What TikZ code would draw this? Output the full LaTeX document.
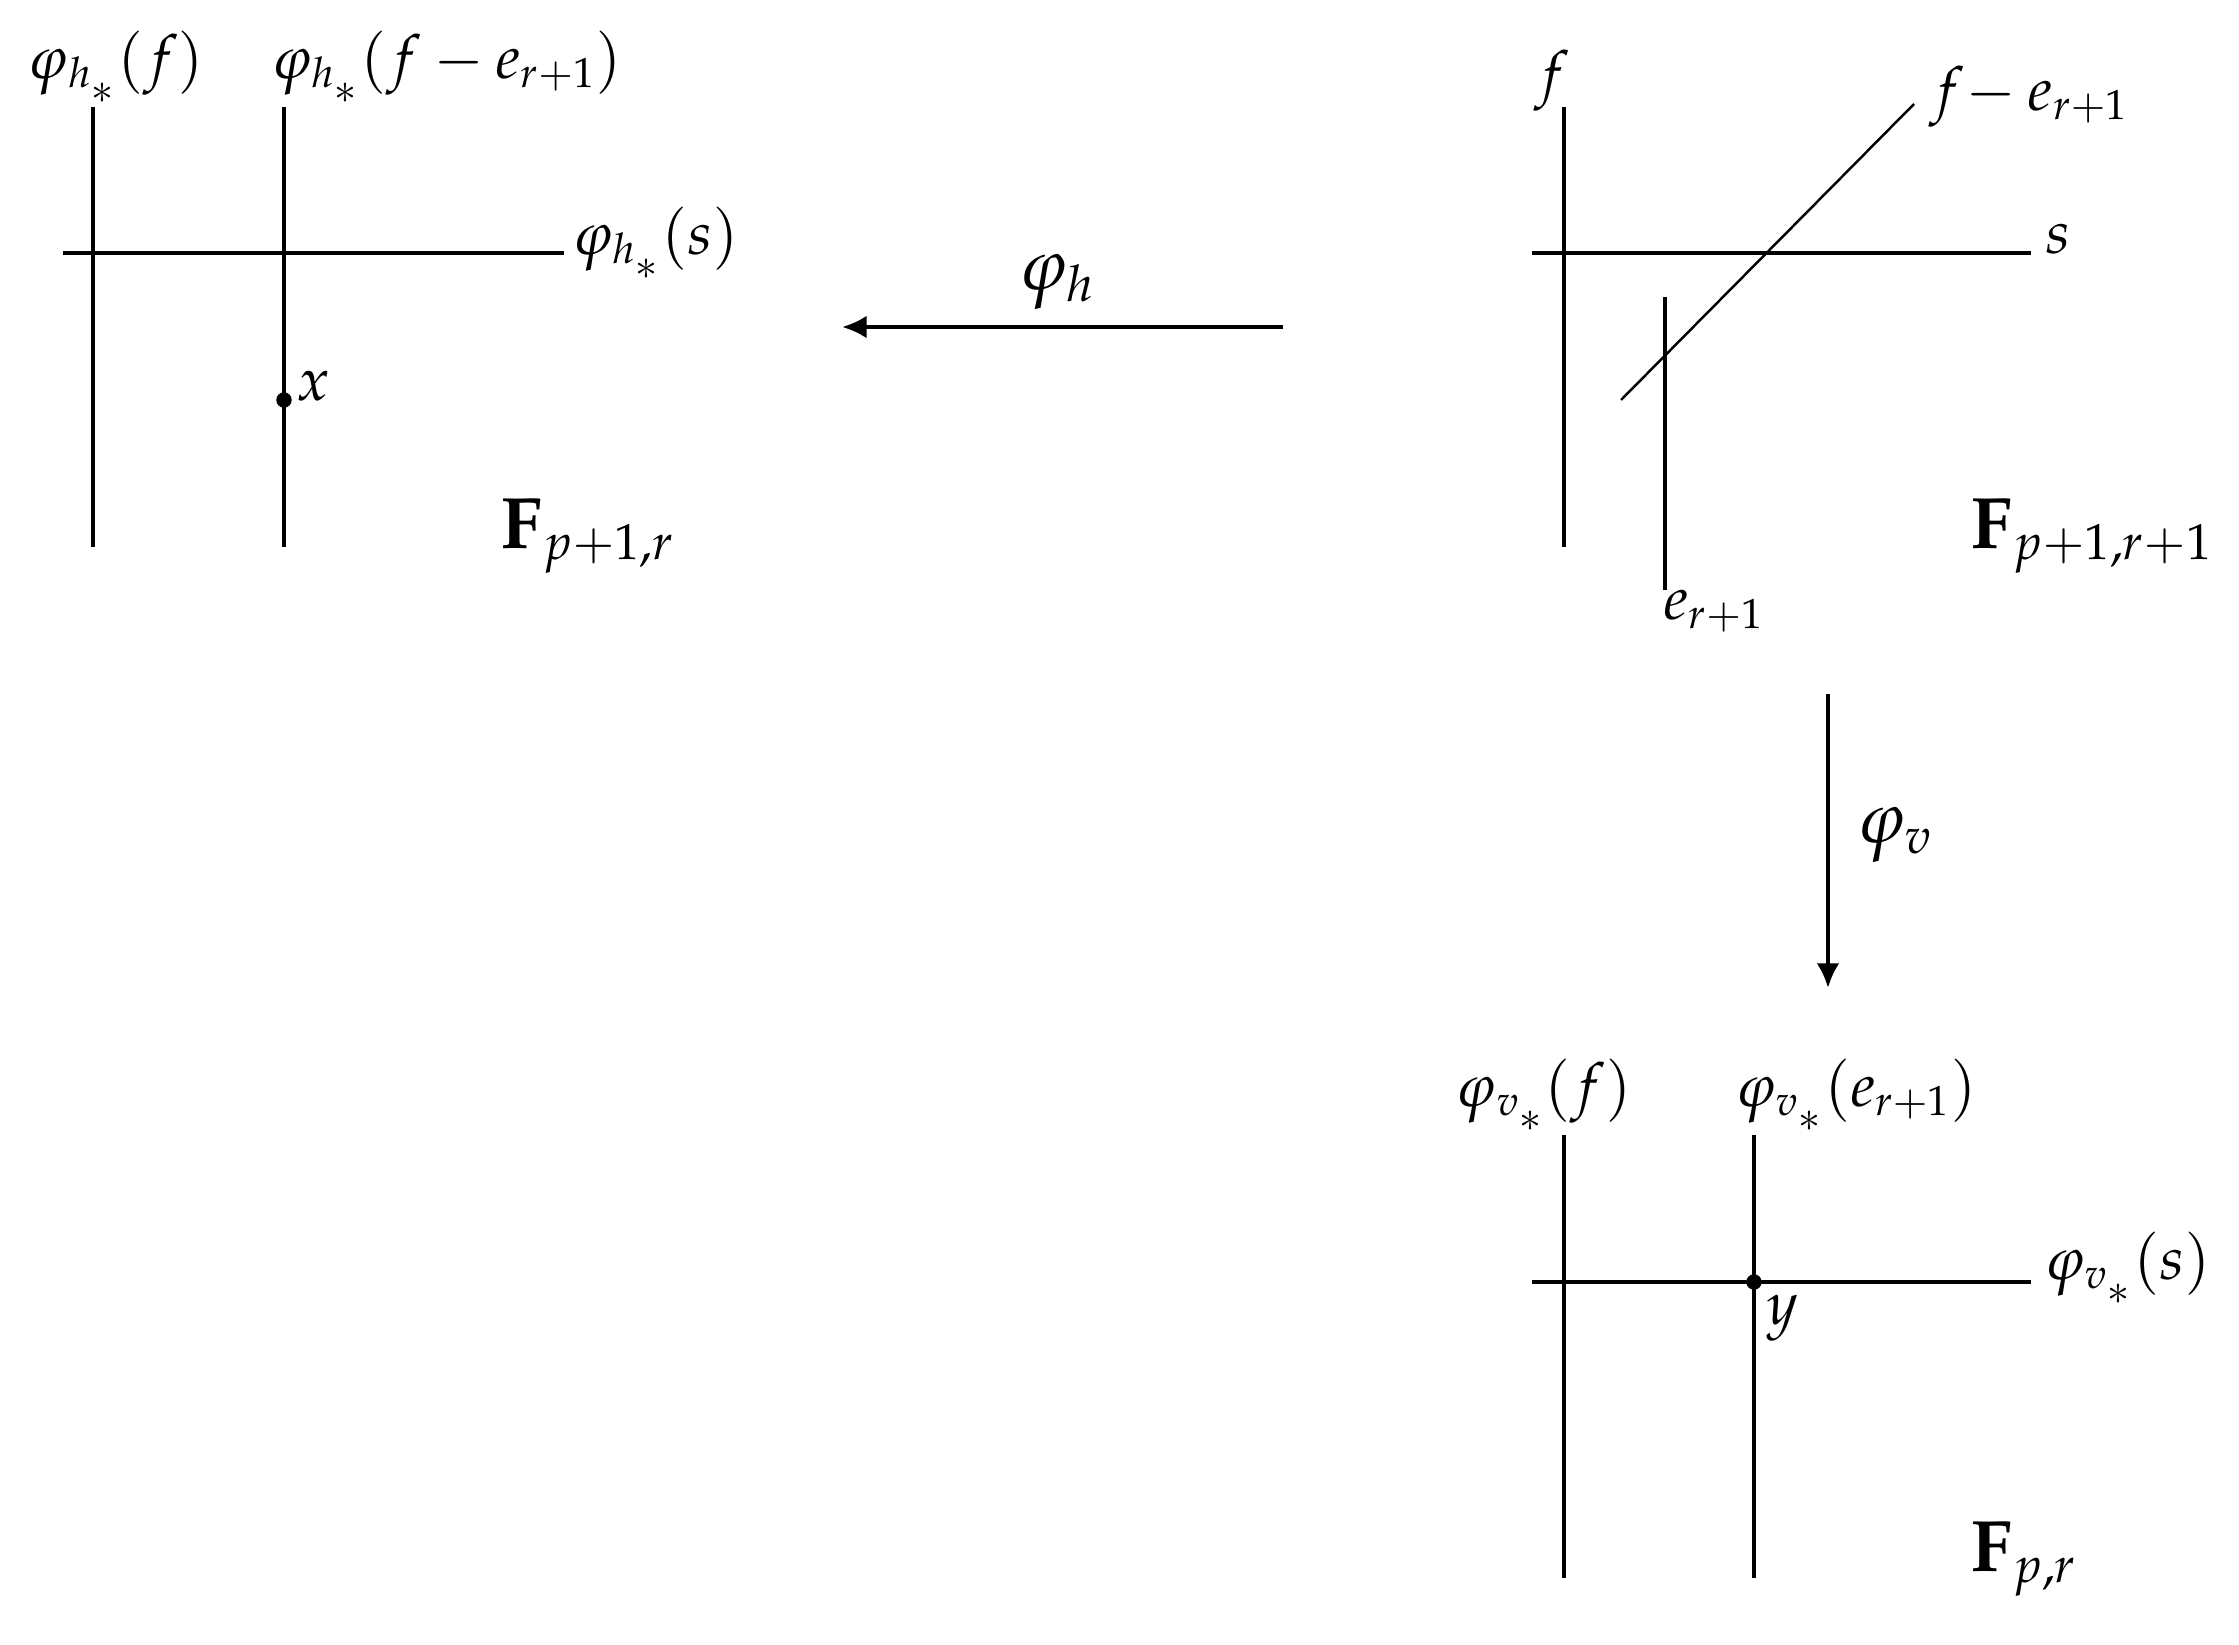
\documentclass[tikz,border=0pt]{standalone}
\usepackage{mathpazo}
\usetikzlibrary{arrows.meta}
\newcommand{\lowstar}{{\raisebox{-0.35ex}{$\scriptstyle\ast$}}}
\tikzset{
  thickLine/.style={line width=1.2pt},
  midLine/.style={line width=0.95pt},
  thinLine/.style={line width=0.7pt},
  mapArrow/.style={line width=1.2pt, -{Latex[length=7pt,width=6.5pt]}},
  smallLabel/.style={font=\LARGE},
  bigLabel/.style={font=\huge},
}
\begin{document}
\begin{tikzpicture}
\useasboundingbox (0,0) rectangle (22.39,16.44);
% F_{p+1,r}
\draw[thickLine] (0.93,15.37) -- (0.93,10.97);
\draw[thickLine] (2.84,15.37) -- (2.84,10.97);
\draw[thickLine] (0.63,13.91) -- (5.64,13.91);
\fill (2.84,12.44) circle[radius=2.2pt];
\node[smallLabel] (hF) at (1.16,15.77) {$\varphi_{h_{\lowstar}}(f)$};
\node[smallLabel] (hFE) at (4.47,15.77) {$\varphi_{h_{\lowstar}}(f-e_{r+1})$};
\node[smallLabel] (hS) at (6.56,14.01) {$\varphi_{h_{\lowstar}}(s)$};
\node[smallLabel] (ptX) at (3.13,12.58) {$x$};
\node[bigLabel] (panelH) at (5.88,11.08) {$\mathbf{F}_{p+1,r}$};
% F_{p+1,r+1}
\draw[thickLine] (15.64,15.37) -- (15.64,10.97);
\draw[thickLine] (15.32,13.91) -- (20.31,13.91);
\draw[midLine] (16.65,13.47) -- (16.65,10.54);
\draw[thinLine] (16.21,12.44) -- (19.14,15.40);
\node[smallLabel] (cF) at (15.52,15.63) {$f$};
\node[smallLabel] (cS) at (20.58,14.05) {$s$};
\node[smallLabel] (cFE) at (20.29,15.47) {$f\!-e_{r+1}$};
\node[smallLabel] (cE) at (17.14,10.33) {$e_{r+1}$};
\node[bigLabel] (panelC) at (20.92,11.08) {$\mathbf{F}_{p+1,r+1}$};
% F_{p,r}
\draw[thickLine] (15.64,5.09) -- (15.64,0.66);
\draw[midLine] (17.54,5.09) -- (17.54,0.66);
\draw[thickLine] (15.32,3.62) -- (20.31,3.62);
\fill (17.54,3.62) circle[radius=2.2pt];
\node[smallLabel] (vF) at (15.44,5.49) {$\varphi_{v_{\lowstar}}(f)$};
\node[smallLabel] (vE) at (18.56,5.49) {$\varphi_{v_{\lowstar}}(e_{r+1})$};
\node[smallLabel] (vS) at (21.28,3.76) {$\varphi_{v_{\lowstar}}(s)$};
\node[smallLabel] (ptY) at (17.83,3.26) {$y$};
\node[bigLabel] (panelV) at (20.24,0.85) {$\mathbf{F}_{p,r}$};
% maps
\coordinate (hStart) at (12.83,13.17);
\coordinate (hEnd) at (8.42,13.17);
\coordinate (vStart) at (18.28,9.50);
\coordinate (vEnd) at (18.28,6.56);
\draw[mapArrow] (hStart) -- (hEnd);
\draw[mapArrow] (vStart) -- (vEnd);
\node[bigLabel] (mapH) at (10.57,13.62) {$\varphi_h$};
\node[bigLabel] (mapV) at (18.95,8.09) {$\varphi_v$};
\end{tikzpicture}
\end{document}
